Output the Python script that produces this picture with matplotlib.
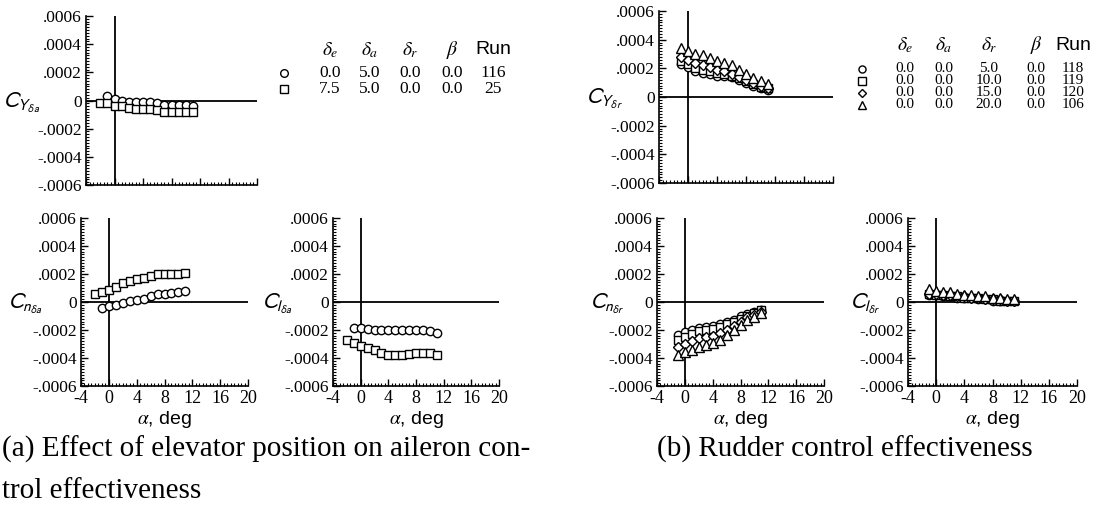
import numpy as np
import matplotlib.pyplot as plt
from matplotlib.ticker import MultipleLocator

W, H = 1104, 515

# angle of attack, deg
alpha_a_circ = [-1, 0, 1, 2, 3, 4, 5, 6, 7, 8, 9, 10, 11]
alpha_a_sq = [-2, -1, 0, 1, 2, 3, 4, 5, 6, 7, 8, 9, 10, 11]
alpha_b = [-1, 0, 1, 2, 3, 4, 5, 6, 7, 8, 9, 10, 11]

# (a) aileron effectiveness, run 116 (circles) and run 25 (squares)
cy_da_116 = [0.00003, 0.00001, 0.0, -0.00001, -0.00001, -0.00001, -0.00001,
             -0.00002, -0.00003, -0.00003, -0.00003, -0.00003, -0.00004]
cy_da_25 = [-0.00002, -0.00002, -0.00004, -0.00004, -0.00005, -0.00006, -0.00006,
            -0.00006, -0.00007, -0.00008, -0.00008, -0.00008, -0.00008, -0.00008]
cn_da_116 = [-0.000043, -0.00003, -0.000019, -0.000005, 0.000007, 0.000012, 0.000024,
             0.00004, 0.000055, 0.00006, 0.000064, 0.00007, 0.000076]
cn_da_25 = [0.000055, 0.00007, 0.000083, 0.000107, 0.000135, 0.00015, 0.000166,
            0.000174, 0.000185, 0.000198, 0.0002, 0.0002, 0.0002, 0.000207]
cl_da_116 = [-0.000184, -0.000188, -0.000195, -0.0002, -0.000202, -0.000202, -0.000202,
             -0.000202, -0.000202, -0.000202, -0.000202, -0.000205, -0.000224]
cl_da_25 = [-0.00027, -0.00029, -0.000313, -0.00033, -0.000346, -0.000365, -0.000376,
            -0.00038, -0.000376, -0.000374, -0.000365, -0.000365, -0.000365, -0.000376]

# (b) rudder effectiveness, runs 118, 119, 120, 106
cy_dr = {
    118: [0.00023, 0.00021, 0.00018, 0.00017, 0.00016, 0.00015, 0.00015,
          0.00014, 0.00012, 0.0001, 0.00008, 0.00006, 0.00005],
    119: [0.00025, 0.00023, 0.0002, 0.00019, 0.00018, 0.00017, 0.00016,
          0.00015, 0.00013, 0.00011, 0.00009, 0.00007, 0.00006],
    120: [0.00028, 0.00026, 0.00024, 0.00022, 0.00021, 0.00019, 0.00018,
          0.00016, 0.00014, 0.00012, 0.0001, 0.00008, 0.00006],
    106: [0.00034, 0.00032, 0.0003, 0.00029, 0.00027, 0.00025, 0.00024,
          0.00022, 0.00019, 0.00016, 0.00013, 0.00011, 0.00009],
}
cn_dr = {
    118: [-0.000235, -0.000216, -0.0002, -0.000184, -0.000176, -0.00017, -0.00016,
          -0.00014, -0.000125, -0.0001, -0.000087, -0.00007, -0.000054],
    119: [-0.00027, -0.00025, -0.00023, -0.00021, -0.0002, -0.00019, -0.00018,
          -0.00016, -0.00014, -0.00012, -0.0001, -0.00008, -0.00006],
    120: [-0.00032, -0.0003, -0.00028, -0.00026, -0.00025, -0.00024, -0.00022,
          -0.0002, -0.00017, -0.00014, -0.00011, -0.00009, -0.00007],
    106: [-0.000376, -0.00036, -0.00034, -0.00032, -0.000306, -0.000294, -0.00027,
          -0.000235, -0.0002, -0.000165, -0.00013, -0.000106, -0.000082],
}
cl_dr = {
    118: [0.00005, 0.00005, 0.00004, 0.00004, 0.00003, 0.00003, 0.00003,
          0.00002, 0.00002, 0.00001, 0.00001, 0.00001, 0.00001],
    119: [0.00006, 0.00005, 0.00005, 0.00004, 0.00004, 0.00003, 0.00003,
          0.00003, 0.00002, 0.00002, 0.00001, 0.00001, 0.00001],
    120: [0.00006, 0.00006, 0.00005, 0.00005, 0.00004, 0.00004, 0.00003,
          0.00003, 0.00002, 0.00002, 0.00002, 0.00001, 0.00001],
    106: [0.00009, 0.00008, 0.00007, 0.00007, 0.00006, 0.00005, 0.00005,
          0.00004, 0.00004, 0.00003, 0.00003, 0.00002, 0.00002],
}

yticks = [-0.0006, -0.0004, -0.0002, 0, 0.0002, 0.0004, 0.0006]
ytick_labels = ['-.0006', '-.0004', '-.0002', '0', '.0002', '.0004', '.0006']
xticks = [-4, 0, 4, 8, 12, 16, 20]
xtick_labels = ['-4', '0', '4', '8', '12', '16', '20']

legend_head = [r'$\delta_e$', r'$\delta_a$', r'$\delta_r$', r'$\beta$', 'Run']
legend_a_rows = [['0.0', '5.0', '0.0', '0.0', '116'],
                 ['7.5', '5.0', '0.0', '0.0', '25']]
legend_b_rows = [['0.0', '0.0', '5.0', '0.0', '118'],
                 ['0.0', '0.0', '10.0', '0.0', '119'],
                 ['0.0', '0.0', '15.0', '0.0', '120'],
                 ['0.0', '0.0', '20.0', '0.0', '106']]

SERIF = 'Liberation Serif'
SANS = 'Liberation Sans'
mk = dict(color='k', mfc='white', mec='k', mew=1.0, ls='none')
markers_b = {118: ('o', 6), 119: ('s', 6), 120: ('D', 5.2), 106: ('^', 6.5)}

fig = plt.figure(figsize=(W / 100, H / 100), dpi=100)


def make_axes(l, t, r, b, ylabel, lab_off, xlabels=True):
    ax = fig.add_axes([l / W, 1 - b / H, (r - l) / W, (b - t) / H])
    ax.set_xlim(-4, 20)
    ax.set_ylim(-0.0006, 0.0006)
    for s in ['top', 'right']:
        ax.spines[s].set_visible(False)
    ax.spines['left'].set_linewidth(1.2)
    ax.spines['bottom'].set_linewidth(1.2)
    ax.axhline(0, color='k', lw=1.3, zorder=1)
    ax.axvline(0, color='k', lw=1.3, zorder=1)
    ax.set_yticks(yticks)
    ax.set_yticklabels(ytick_labels, family=SERIF, fontsize=12.5)
    ax.yaxis.set_minor_locator(MultipleLocator(0.00002))
    ax.set_xticks(xticks)
    ax.xaxis.set_minor_locator(MultipleLocator(0.5))
    if xlabels:
        ax.set_xticklabels(xtick_labels, family=SERIF, fontsize=13)
        ax.set_xlabel(r'$\alpha$, deg', family=SANS, fontsize=14,
                      math_fontfamily='stix', labelpad=1)
    else:
        ax.set_xticklabels([])
    ax.tick_params(which='major', direction='in', length=5, width=1, pad=3)
    ax.tick_params(which='minor', direction='in', length=2.5, width=0.8)
    ax.annotate(ylabel, xy=(0, 0.5), xycoords='axes fraction',
                xytext=(-lab_off, -2), textcoords='offset pixels',
                ha='right', va='center', fontsize=16, math_fontfamily='stixsans')
    return ax


# (a)
ax = make_axes(86, 16, 257, 185, r'$C_{Y_{\delta a}}$', 46, xlabels=False)
ax.plot(alpha_a_circ, cy_da_116, marker='o', ms=6, **mk)
ax.plot(alpha_a_sq, cy_da_25, marker='s', ms=6, **mk)

ax = make_axes(81, 218, 248, 386, r'$C_{n_{\delta a}}$', 38)
ax.plot(alpha_a_circ, cn_da_116, marker='o', ms=6, **mk)
ax.plot(alpha_a_sq, cn_da_25, marker='s', ms=6, **mk)

ax = make_axes(333, 218, 499, 386, r'$C_{l_{\delta a}}$', 40)
ax.plot(alpha_a_circ, cl_da_116, marker='o', ms=6, **mk)
ax.plot(alpha_a_sq, cl_da_25, marker='s', ms=6, **mk)

# (b)
for rect, lab, off, xl, data in [
        ((659, 11, 833, 183), r'$C_{Y_{\delta r}}$', 36, False, cy_dr),
        ((657, 218, 824, 386), r'$C_{n_{\delta r}}$', 32, True, cn_dr),
        ((908, 218, 1077, 386), r'$C_{l_{\delta r}}$', 28, True, cl_dr)]:
    ax = make_axes(*rect, lab, off, xlabels=xl)
    for run, vals in data.items():
        m, s = markers_b[run]
        ax.plot(alpha_b, vals, marker=m, ms=s, **mk)

# overlay in pixel coordinates for legends and captions
ov = fig.add_axes([0, 0, 1, 1])
ov.set_xlim(0, W)
ov.set_ylim(H, 0)
ov.axis('off')

cols_a = [330, 370, 410, 452, 493]
for x, h in zip(cols_a, legend_head):
    ov.text(x, 50, h, ha='center', va='center', fontsize=14,
            family=SANS, math_fontfamily='stix')
for row, y, m in zip(legend_a_rows, [73, 89], ['o', 's']):
    ov.plot([284], [y], marker=m, ms=5.5, **mk)
    for x, v in zip(cols_a, row):
        ov.text(x, y, v, ha='center', va='center', fontsize=12.5, family=SERIF)

cols_b = [905, 944, 989, 1036, 1073]
for x, h in zip(cols_b, legend_head):
    ov.text(x, 45, h, ha='center', va='center', fontsize=14,
            family=SANS, math_fontfamily='stix')
for row, y, run in zip(legend_b_rows, [69, 81, 93, 105], [118, 119, 120, 106]):
    m, s = markers_b[run]
    ov.plot([862], [y], marker=m, ms=s * 0.85, **mk)
    for x, v in zip(cols_b, row):
        ov.text(x, y, v, ha='center', va='center', fontsize=11, family=SERIF)

ov.text(2, 449, '(a) Effect of elevator position on aileron con-',
        ha='left', va='center', fontsize=21, family=SERIF)
ov.text(2, 491, 'trol effectiveness', ha='left', va='center', fontsize=21, family=SERIF)
ov.text(657, 449, '(b) Rudder control effectiveness',
        ha='left', va='center', fontsize=21, family=SERIF)

fig.savefig('out.png', dpi=100)
